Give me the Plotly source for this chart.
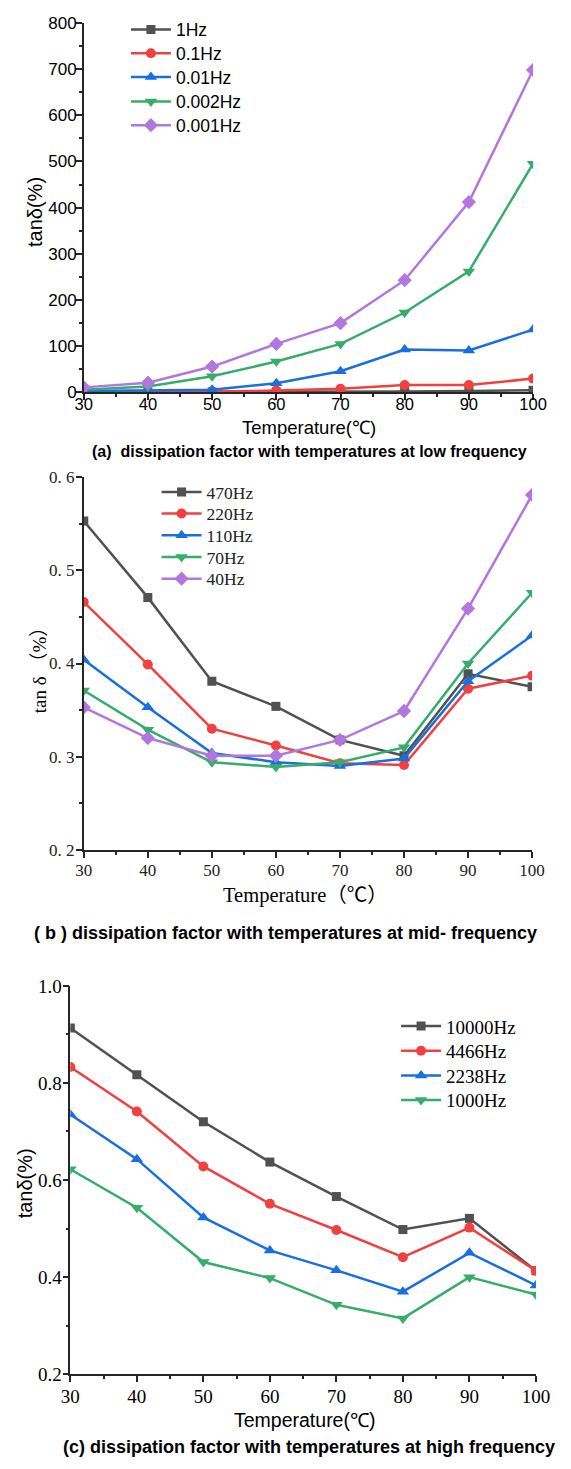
import plotly.graph_objects as go

W, H = 571, 1469

temps = [30, 40, 50, 60, 70, 80, 90, 100]

# Panel (a): low frequency
low_names = ["1Hz", "0.1Hz", "0.01Hz", "0.002Hz", "0.001Hz"]
low_1Hz = [1, 1, 1, 1, 2, 2, 3, 5]
low_01Hz = [1, 1, 2, 4, 8, 16, 16, 30]
low_001Hz = [3, 4, 6, 20, 46, 93, 91, 136]
low_0002Hz = [6, 13, 35, 67, 105, 173, 262, 495]
low_0001Hz = [11, 21, 56, 105, 150, 243, 412, 698]
low_vals = [low_1Hz, low_01Hz, low_001Hz, low_0002Hz, low_0001Hz]

# Panel (b): mid frequency
mid_names = ["470Hz", "220Hz", "110Hz", "70Hz", "40Hz"]
mid_470 = [0.553, 0.471, 0.381, 0.354, 0.318, 0.301, 0.389, 0.375]
mid_220 = [0.466, 0.399, 0.330, 0.312, 0.293, 0.291, 0.373, 0.387]
mid_110 = [0.404, 0.353, 0.304, 0.294, 0.290, 0.298, 0.381, 0.430]
mid_70 = [0.371, 0.329, 0.294, 0.289, 0.294, 0.310, 0.400, 0.476]
mid_40 = [0.353, 0.320, 0.301, 0.301, 0.318, 0.349, 0.459, 0.581]
mid_vals = [mid_470, mid_220, mid_110, mid_70, mid_40]
mid_ticks = [0.2, 0.3, 0.4, 0.5, 0.6]
mid_ticktext = ["0. 2", "0. 3", "0. 4", "0. 5", "0. 6"]

# Panel (c): high frequency
high_names = ["10000Hz", "4466Hz", "2238Hz", "1000Hz"]
high_10000 = [0.913, 0.817, 0.720, 0.637, 0.566, 0.498, 0.521, 0.413]
high_4466 = [0.833, 0.741, 0.628, 0.551, 0.497, 0.441, 0.502, 0.413]
high_2238 = [0.735, 0.643, 0.523, 0.455, 0.414, 0.370, 0.450, 0.383]
high_1000 = [0.622, 0.543, 0.431, 0.398, 0.343, 0.315, 0.400, 0.364]
high_vals = [high_10000, high_4466, high_2238, high_1000]

colors = ["#515151", "#F14040", "#1A6FDF", "#37AD6B", "#B177DE"]
symbols = ["square", "circle", "triangle-up", "triangle-down", "diamond"]
msizes = [9, 10, 11, 11, 11]

SANS = "Arial, Liberation Sans, sans-serif"
SERIF = "Liberation Serif, Times New Roman, Noto Sans CJK SC, serif"


def px(x):
    return x / W


def py(y):
    return 1 - y / H


fig = go.Figure()

# panel spec: names, values, axes, legend x (px), legend row centres (px), legend font
panels = [
    (low_names, low_vals, "x", "y", 121, [20, 44, 68, 93, 117], dict(family=SANS, size=17.5, color="black")),
    (mid_names, mid_vals, "x2", "y2", 153, [489, 511, 533, 555, 577], dict(family=SERIF, size=17.5, color="#222")),
    (high_names, high_vals, "x3", "y3", 403, [1031, 1056, 1081, 1106], dict(family=SERIF, size=19, color="black")),
]
legend_layouts = {}
k = 0
for names, vals, xa, ya, lx, rows, lfont in panels:
    for i, (nm, v) in enumerate(zip(names, vals)):
        k += 1
        lname = "legend" if k == 1 else f"legend{k}"
        fig.add_trace(go.Scatter(
            x=temps, y=v, name=nm, mode="lines+markers",
            xaxis=xa, yaxis=ya, legend=lname,
            line=dict(color=colors[i], width=2.5),
            marker=dict(symbol=symbols[i], size=msizes[i], color=colors[i]),
        ))
        legend_layouts[lname] = dict(
            x=px(lx), y=py(rows[i]), xanchor="left", yanchor="middle",
            font=lfont, itemwidth=40, bgcolor="rgba(0,0,0,0)",
        )

axis_common = dict(
    showline=True, linecolor="#262626", linewidth=1.5,
    ticks="outside", ticklen=6, tickwidth=1.5, tickcolor="#262626",
    showgrid=False, zeroline=False, mirror=False,
)
minor_common = dict(ticks="outside", ticklen=3, tickwidth=1.5, tickcolor="#262626")

fig.update_layout(
    width=W, height=H,
    margin=dict(l=0, r=0, t=0, b=0),
    paper_bgcolor="white", plot_bgcolor="white",
    showlegend=True,
    xaxis=dict(domain=[px(77), px(546)], anchor="y", range=[30, 100],
               tickvals=temps, minor=dict(dtick=5, tick0=0, **minor_common),
               ticklabelstandoff=-10,
               tickfont=dict(family=SANS, size=16.5, color="black"), **axis_common),
    yaxis=dict(domain=[py(388), py(13)], anchor="x", range=[0, 800], dtick=100,
               minor=dict(dtick=50, **minor_common), ticklabelstandoff=-4,
               tickfont=dict(family=SANS, size=17, color="black"), **axis_common),
    xaxis2=dict(domain=[px(77), px(545)], anchor="y2", range=[30, 100],
                tickvals=temps, minor=dict(dtick=5, tick0=0, **minor_common),
                ticklabelstandoff=-2,
                tickfont=dict(family=SERIF, size=17, color="#222"), **axis_common),
    yaxis2=dict(domain=[py(852), py(474)], anchor="x2", range=[0.2, 0.6],
                tickvals=mid_ticks, ticktext=mid_ticktext, ticklabelstandoff=-2,
                minor=dict(dtick=0.05, tick0=0.2, **minor_common),
                tickfont=dict(family=SERIF, size=17, color="#222"), **axis_common),
    xaxis3=dict(domain=[px(63), px(549)], anchor="y3", range=[30, 100],
                tickvals=temps, minor=dict(dtick=5, tick0=0, **minor_common),
                ticklabelstandoff=-2,
                tickfont=dict(family=SERIF, size=19, color="black"), **axis_common),
    yaxis3=dict(domain=[py(1384), py(990)], anchor="x3", range=[0.2, 1.0], dtick=0.2, tickformat=".1f",
                minor=dict(dtick=0.1, tick0=0.2, **minor_common), ticklabelstandoff=-3,
                tickfont=dict(family=SERIF, size=19, color="black"), **axis_common),
    **legend_layouts,
)

annots = [
    ("Temperature(℃)", 312, 424, SANS, 18.5, False, 0),
    ("tanδ(%)", 26, 205, SANS, 20, False, -90),
    ("(a)  dissipation factor with temperatures at low frequency", 313, 448, SANS, 16, True, 0),
    ("Temperature（℃）", 308, 898, SERIF, 20.5, False, 0),
    ("tan δ （%）", 31, 665, SERIF, 19, False, -90),
    ("( b ) dissipation factor with temperatures at mid- frequency", 288, 936, SANS, 18, True, 0),
    ("Temperature(℃)", 307, 1430, SANS, 19.5, False, 0),
    ("tanδ(%)", 16, 1190, SANS, 20, False, -90),
    ("(c) dissipation factor with temperatures at high frequency", 312, 1458, SANS, 18, True, 0),
]
for text, x, y, fam, size, bold, ang in annots:
    fig.add_annotation(
        text=f"<b>{text}</b>" if bold else text,
        x=px(x), y=py(y), xref="paper", yref="paper",
        xanchor="center", yanchor="middle", showarrow=False,
        textangle=ang, font=dict(family=fam, size=size, color="black"),
    )

fig.write_html("out.html")
